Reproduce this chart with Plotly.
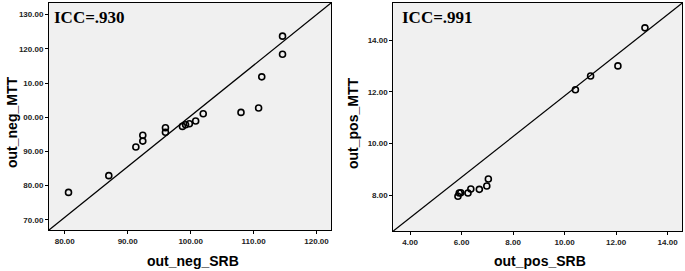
import plotly.graph_objects as go

# Left panel data (out_neg)
neg_srb = [80.6, 87.0, 91.3, 92.4, 92.4, 96.0, 96.0, 98.7, 99.2, 99.8, 100.8, 102.0, 108.0, 110.8, 111.3, 114.6, 114.6]
neg_mtt = [78.0, 82.9, 91.3, 93.0, 94.7, 95.6, 96.9, 97.3, 97.8, 98.1, 98.9, 101.0, 101.4, 102.7, 111.8, 118.4, 123.7]

# Right panel data (out_pos)
pos_srb = [5.86, 5.91, 5.97, 6.25, 6.36, 6.69, 6.98, 7.04, 10.42, 11.01, 12.07, 13.12]
pos_mtt = [7.96, 8.09, 8.10, 8.09, 8.24, 8.23, 8.36, 8.63, 12.08, 12.61, 13.00, 14.47]

neg_xticks = [80, 90, 100, 110, 120]
neg_xtext = ["80.00", "90.00", "100.00", "110.00", "120.00"]
neg_yticks = [70, 80, 90, 100, 110, 120, 130]
neg_ytext = ["70.00", "80.00", "90.00", "00.00", "10.00", "120.00", "130.00"]
pos_xticks = [4, 6, 8, 10, 12, 14]
pos_xtext = ["4.00", "6.00", "8.00", "10.00", "12.00", "14.00"]
pos_yticks = [8, 10, 12, 14]
pos_ytext = ["8.00", "10.00", "12.00", "14.00"]

W, H = 685, 271

fig = go.Figure()
marker = dict(symbol="circle-open", size=6, color="black", line=dict(width=1.6, color="black"))
fig.add_trace(go.Scatter(x=neg_srb, y=neg_mtt, mode="markers", marker=marker, xaxis="x", yaxis="y", showlegend=False))
fig.add_trace(go.Scatter(x=pos_srb, y=pos_mtt, mode="markers", marker=marker, xaxis="x2", yaxis="y2", showlegend=False))

tickfont = dict(family="Liberation Sans Narrow, Arial Narrow, Liberation Sans, Arial", size=8, color="#222", weight="bold")
common = dict(showgrid=False, zeroline=False, showline=True, linecolor="black", linewidth=1,
              mirror=True, ticks="outside", ticklen=3, tickcolor="black", tickfont=tickfont)

fig.update_layout(
    width=W, height=H,
    margin=dict(l=0, r=0, t=0, b=0),
    paper_bgcolor="white",
    plot_bgcolor="#f0f0f0",
    xaxis=dict(domain=[49/W, 331/W], range=[77.5, 122.3], tickvals=neg_xticks, ticktext=neg_xtext, anchor="y", **common),
    yaxis=dict(domain=[1-230/H, 1-3/H], range=[67.0, 133.4], tickvals=neg_yticks, ticktext=neg_ytext, anchor="x", **common),
    xaxis2=dict(domain=[393.3/W, 682.3/W], range=[3.35, 14.57], tickvals=pos_xticks, ticktext=pos_xtext, anchor="y2", **common),
    yaxis2=dict(domain=[1-231/H, 1-3/H], range=[6.62, 15.43], tickvals=pos_yticks, ticktext=pos_ytext, anchor="x2", **common),
)

for xr, yr in [("x domain", "y domain"), ("x2 domain", "y2 domain")]:
    fig.add_shape(type="line", xref=xr, yref=yr, x0=0, y0=0, x1=1, y1=1, line=dict(color="black", width=1.2))

titlefont = dict(family="Liberation Sans, Arial", size=14, color="black", weight="bold")
iccfont = dict(family="Liberation Serif, Times New Roman", size=17, color="black", weight="bold")
fig.add_annotation(text="out_neg_SRB", x=193/W, y=0, yanchor="bottom", font=titlefont)
fig.add_annotation(text="out_pos_SRB", x=540/W, y=0, yanchor="bottom", font=titlefont)
fig.add_annotation(text="out_neg_MTT", x=12/W, y=1-123/H, yanchor="middle", font=titlefont, textangle=-90)
fig.add_annotation(text="out_pos_MTT", x=353/W, y=1-123/H, yanchor="middle", font=titlefont, textangle=-90)
for a in fig.layout.annotations:
    a.update(xref="paper", yref="paper", showarrow=False, xanchor="center")
fig.add_annotation(text="ICC=.930", xref="paper", yref="paper", x=52/W, y=1-18/H, xanchor="left", yanchor="middle", showarrow=False, font=iccfont)
fig.add_annotation(text="ICC=.991", xref="paper", yref="paper", x=400/W, y=1-18/H, xanchor="left", yanchor="middle", showarrow=False, font=iccfont)

fig.write_html("out.html", config={"displayModeBar": False},
               post_script="document.body.style.margin='0';document.body.style.overflow='hidden';")
